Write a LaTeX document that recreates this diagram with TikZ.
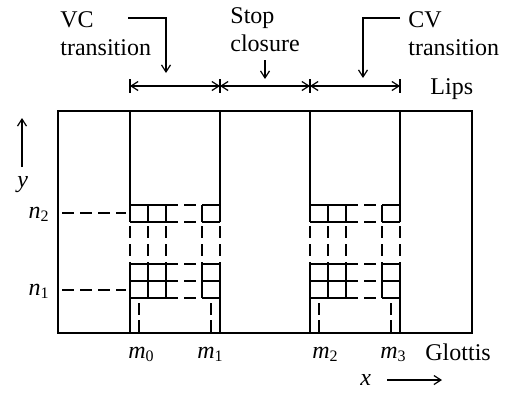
\documentclass[tikz,border=0pt]{standalone}
\usepackage{fontspec}
\setmainfont{Liberation Serif}
\usetikzlibrary{arrows.meta}
\begin{document}
\begin{tikzpicture}[x=0.5pt,y=-0.5pt,
  lbl/.style={inner sep=0pt, font=\fontsize{12}{14}\selectfont},
  ln/.style={line width=0.8pt},
  thinln/.style={line width=0.6pt},
  dsh/.style={line width=0.8pt, dash pattern=on 5.8pt off 3.2pt},
  midd/.style={line width=0.8pt, dash pattern=on 6pt off 3pt, dash phase=7pt},
  tip/.style={-{Straight Barb[length=3.5pt,width=4.5pt]}},
  bothtip/.style={{Straight Barb[length=3.5pt,width=4.5pt]}-{Straight Barb[length=3.5pt,width=4.5pt]}}
]
\useasboundingbox (0,0) rectangle (506,392);

% frame
\coordinate (TL) at (58,111);
\coordinate (BR) at (472,333);
\draw[ln] (TL) rectangle (BR);

% lips dimension line
\foreach \i/\xx in {0/130,1/220,2/310,3/400}{
  \coordinate (L\i) at (\xx,86);
  \coordinate (Lt\i) at (\xx,79);
  \coordinate (Lb\i) at (\xx,93);
  \draw[thinln] (Lt\i) -- (Lb\i);
}
\draw[thinln,bothtip] (L0) -- (L1);
\draw[thinln,bothtip] (L1) -- (L2);
\draw[thinln,bothtip] (L2) -- (L3);

% top labels
\node[lbl, anchor=base west] (vc1) at (60,27) {VC};
\node[lbl, anchor=base west] (vc2) at (60,55) {transition};
\node[lbl, anchor=base west] (st1) at (230,23) {Stop};
\node[lbl, anchor=base west] (st2) at (230,51) {closure};
\node[lbl, anchor=base west] (cv1) at (408,27) {CV};
\node[lbl, anchor=base west] (cv2) at (408,55) {transition};
\node[lbl, anchor=base west] (lips) at (430,94) {Lips};

% label arrows
\coordinate (vcA) at (128,18);
\coordinate (vcB) at (166,18);
\coordinate (vcC) at (166,73);
\draw[thinln,tip] (vcA) -- (vcB) -- (vcC);
\coordinate (stA) at (265,60);
\coordinate (stC) at (265,79);
\draw[thinln,tip] (stA) -- (stC);
\coordinate (cvA) at (400,18);
\coordinate (cvB) at (363,18);
\coordinate (cvC) at (363,78);
\draw[thinln,tip] (cvA) -- (cvB) -- (cvC);

% blocks
\foreach \o in {0,180}{
  % main verticals
  \foreach \xx in {130,220}{
    \draw[ln] (\xx+\o,111) -- (\xx+\o,222);
    \draw[midd] (\xx+\o,222) -- (\xx+\o,264);
    \draw[ln] (\xx+\o,264) -- (\xx+\o,333);
  }
  % inner verticals
  \foreach \xx in {148,166,202}{
    \draw[ln] (\xx+\o,205) -- (\xx+\o,222);
    \draw[midd] (\xx+\o,222) -- (\xx+\o,264);
    \draw[ln] (\xx+\o,264) -- (\xx+\o,298);
  }
  % rows
  \foreach \r in {205,222,264,281,298}{
    \draw[ln] (130+\o,\r) -- (178+\o,\r);
    \draw[ln] (184+\o,\r) -- (196+\o,\r);
    \draw[ln] (202+\o,\r) -- (220+\o,\r);
  }
  % short dashed verticals
  \foreach \xx in {139,211}{
    \draw[ln] (\xx+\o,303) -- (\xx+\o,315);
    \draw[ln] (\xx+\o,320) -- (\xx+\o,332);
  }
}

% n levels
\coordinate (n2a) at (62,213);
\coordinate (n2b) at (126,213);
\coordinate (n1a) at (62,290);
\coordinate (n1b) at (126,290);
\draw[dsh] (n2a) -- (n2b);
\draw[dsh] (n1a) -- (n1b);
\node[lbl, anchor=base east] (n2) at (50,218) {\textit{n}\textsubscript{2}};
\node[lbl, anchor=base east] (n1) at (50,295) {\textit{n}\textsubscript{1}};

% bottom labels
\node[lbl, anchor=base west] (m0) at (128,358) {\textit{m}\textsubscript{0}};
\node[lbl, anchor=base west] (m1) at (197,358) {\textit{m}\textsubscript{1}};
\node[lbl, anchor=base west] (m2) at (312,358) {\textit{m}\textsubscript{2}};
\node[lbl, anchor=base west] (m3) at (380,358) {\textit{m}\textsubscript{3}};
\node[lbl, anchor=base west] (glot) at (425,360) {Glottis};

% axes
\node[lbl, anchor=base west] (xl) at (360,385) {\textit{x}};
\coordinate (xa) at (387,380);
\coordinate (xb) at (442,380);
\draw[thinln,tip] (xa) -- (xb);
\node[lbl, anchor=base west] (yl) at (17,187) {\textit{y}};
\coordinate (ya) at (22,167);
\coordinate (yb) at (22,118);
\draw[thinln,tip] (ya) -- (yb);
\end{tikzpicture}
\end{document}
